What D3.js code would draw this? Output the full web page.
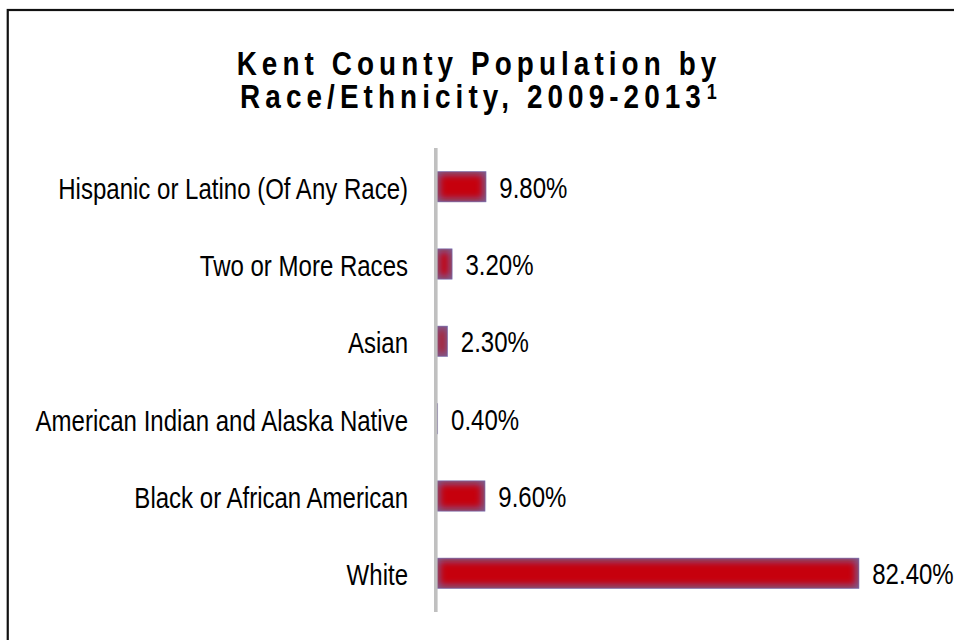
<!DOCTYPE html>
<html>
<head>
<meta charset="utf-8">
<script src="https://cdn.jsdelivr.net/npm/d3@7"></script>
<style>
  html, body { margin: 0; padding: 0; background: #fff; }
  svg { display: block; }
</style>
</head>
<body>
<svg id="chart" width="954" height="640"></svg>
<script>
// Kent County population shares by race/ethnicity, 2009-2013
const categories = [
  "Hispanic or Latino (Of Any Race)",
  "Two or More Races",
  "Asian",
  "American Indian and Alaska Native",
  "Black or African American",
  "White"
];
const values = [9.8, 3.2, 2.3, 0.4, 9.6, 82.4];
const valueLabels = ["9.80%", "3.20%", "2.30%", "0.40%", "9.60%", "82.40%"];
const titleLines = ["Kent County Population by", "Race/Ethnicity, 2009-2013"];
const titleNote = "1";

const svg = d3.select("#chart");
const FONT = "'Liberation Sans', Arial, Helvetica, sans-serif";
const NARROW = 0.82; // horizontal squeeze for a condensed look

// frame around the chart area
svg.append("rect")
  .attr("x", 7.75).attr("y", 10)
  .attr("width", 1000).attr("height", 700)
  .attr("fill", "none")
  .attr("stroke", "#111")
  .attr("stroke-width", 2.2);

// scales
const x = d3.scaleLinear().domain([0, 90]).range([436, 898.3]);
const y = d3.scaleBand().domain(categories).range([148, 612])
  .paddingInner(0.6).paddingOuter(0.3);

// condensed text helper
function narrowText(parent, px, py, anchor, size, weight, txt, spacing) {
  const g = parent.append("g")
    .attr("transform", `translate(${px},${py}) scale(${NARROW},1)`);
  const t = g.append("text")
    .attr("x", 0).attr("y", 0)
    .attr("text-anchor", anchor)
    .attr("font-family", FONT)
    .attr("font-size", size)
    .attr("font-weight", weight)
    .attr("fill", "#000")
    .text(txt);
  if (spacing) t.attr("letter-spacing", spacing);
  return t;
}

// title
const titleG = svg.append("g").attr("class", "title");
narrowText(titleG, 479, 75, "middle", 34, "bold", titleLines[0], 6.2);
const line2 = narrowText(titleG, 481, 108, "middle", 34, "bold", titleLines[1], 6.2);
line2.append("tspan")
  .attr("font-size", 22)
  .attr("dy", -9)
  .attr("dx", 1)
  .text(titleNote);

// bar fill: red core fading into a muted purple edge
const defs = svg.append("defs");
defs.append("filter")
  .attr("id", "soften")
  .attr("x", "-100%").attr("y", "-100%")
  .attr("width", "300%").attr("height", "300%")
  .append("feGaussianBlur").attr("stdDeviation", 3.6);

const data = categories.map((c, i) => ({ cat: c, v: values[i], label: valueLabels[i], i }));

defs.selectAll("clipPath.barclip")
  .data(data)
  .join("clipPath")
  .attr("class", "barclip")
  .attr("id", d => "bar-clip-" + d.i)
  .append("rect")
  .attr("x", x(0))
  .attr("y", d => y(d.cat))
  .attr("width", d => x(d.v) - x(0))
  .attr("height", y.bandwidth());

const bars = svg.append("g").attr("class", "bars")
  .selectAll("g")
  .data(data)
  .join("g")
  .attr("clip-path", d => `url(#bar-clip-${d.i})`);

bars.append("rect")
  .attr("x", x(0))
  .attr("y", d => y(d.cat))
  .attr("width", d => x(d.v) - x(0))
  .attr("height", y.bandwidth())
  .attr("fill", "#7d5c90");

const inset = 3.5;
bars.append("rect")
  .attr("x", x(0) + inset)
  .attr("y", d => y(d.cat) + inset)
  .attr("width", d => Math.max(0, x(d.v) - x(0) - 2 * inset))
  .attr("height", y.bandwidth() - 2 * inset)
  .attr("fill", "#c6000a")
  .attr("filter", "url(#soften)");

bars.append("rect")
  .attr("x", x(0))
  .attr("y", d => y(d.cat))
  .attr("width", d => x(d.v) - x(0))
  .attr("height", y.bandwidth())
  .attr("fill", "none")
  .attr("stroke", "rgba(125,130,195,0.8)")
  .attr("stroke-width", 1.2);

// vertical category axis line
svg.append("line")
  .attr("x1", 435.8).attr("x2", 435.8)
  .attr("y1", y.range()[0]).attr("y2", y.range()[1])
  .attr("stroke", "#c0c0c0")
  .attr("stroke-width", 3.6);

// category labels
const catG = svg.append("g").attr("class", "category-labels");
data.forEach(d => {
  narrowText(catG, 408, y(d.cat) + y.bandwidth() / 2 + 12, "end", 29.3, "normal", d.cat);
});

// value labels
const valG = svg.append("g").attr("class", "value-labels");
data.forEach(d => {
  narrowText(valG, x(d.v) + 13, y(d.cat) + y.bandwidth() / 2 + 11, "start", 29.3, "normal", d.label);
});
</script>
</body>
</html>
